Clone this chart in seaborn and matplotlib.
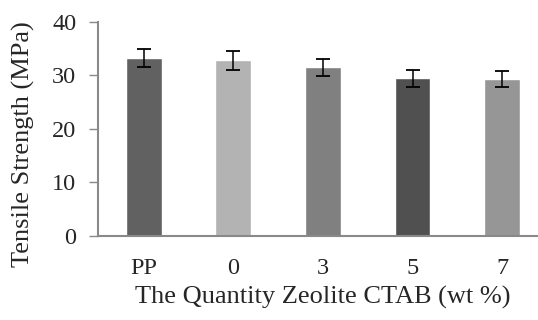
import seaborn as sns
import matplotlib.pyplot as plt
import pandas as pd

# Tensile strength vs zeolite CTAB loading
categories = ['PP', '0', '3', '5', '7']
strength = [33.2, 32.8, 31.5, 29.45, 29.3]
strength_err = [1.7, 1.75, 1.6, 1.55, 1.45]
bar_colors = ['#616161', '#b3b3b3', '#808080', '#505050', '#969696']

df = pd.DataFrame({'Quantity': categories, 'Strength': strength})

sns.set_style('white')
plt.rcParams['font.family'] = ['Liberation Serif', 'DejaVu Serif']

fig = plt.figure(figsize=(5.38, 3.2), dpi=100)
ax = fig.add_axes([0.182, 0.2625, 0.818, 0.669])

sns.barplot(data=df, x='Quantity', y='Strength', hue='Quantity',
            palette=bar_colors, width=0.4, legend=False, ax=ax,
            saturation=1)
ax.errorbar(x=range(len(categories)), y=strength, yerr=strength_err,
            fmt='none', ecolor='black', elinewidth=1.1, capsize=4.7, capthick=1.3)

ax.set_xlim(-0.51, 4.40)
ax.set_ylim(0, 40)
ax.set_yticks([0, 10, 20, 30, 40])
ax.set_xlabel('The Quantity Zeolite CTAB (wt %)', fontsize=19, labelpad=5)
ax.xaxis.label.set_x(0.512)
ax.set_ylabel('Tensile Strength (MPa)', fontsize=19)
ax.yaxis.set_label_coords(-0.143, 0.43)
ax.tick_params(axis='y', labelsize=17.5, length=6.5, width=1, color='#898989',
               direction='out', left=True, pad=9)
ax.tick_params(axis='x', labelsize=17.5, length=0, pad=16)

sns.despine(ax=ax, top=True, right=True)
for side in ['left', 'bottom']:
    ax.spines[side].set_color('#898989')
    ax.spines[side].set_linewidth(1.5)

fig.savefig('out.png', dpi=100)
